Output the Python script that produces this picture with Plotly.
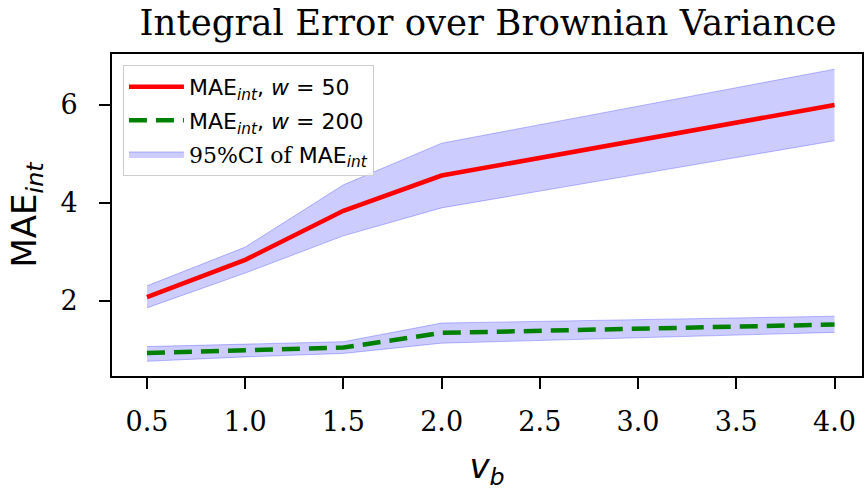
import plotly.graph_objects as go

# Brownian variance levels
v_b = [0.5, 1.0, 1.5, 2.0, 4.0]

# Window w = 50
mae_w50 = [2.08, 2.84, 3.84, 4.56, 6.00]
ci_w50_low = [1.86, 2.57, 3.33, 3.90, 5.27]
ci_w50_high = [2.31, 3.10, 4.37, 5.22, 6.73]

# Window w = 200
mae_w200 = [0.94, 0.99, 1.05, 1.35, 1.52]
ci_w200_low = [0.77, 0.86, 0.93, 1.14, 1.36]
ci_w200_high = [1.07, 1.12, 1.17, 1.55, 1.69]

x_ticks = [0.5, 1.0, 1.5, 2.0, 2.5, 3.0, 3.5, 4.0]
y_ticks = [2, 4, 6]

SERIF = "DejaVu Serif"
SANS = "DejaVu Sans"
FILL = "rgba(0,0,255,0.2)"
EDGE = "rgba(0,0,255,0.25)"

fig = go.Figure()

# confidence bands (drawn first so the lines sit on top)
for low, high, show in [(ci_w50_low, ci_w50_high, True), (ci_w200_low, ci_w200_high, False)]:
    fig.add_trace(go.Scatter(x=v_b, y=low, mode="lines",
                             line=dict(color=EDGE, width=1),
                             showlegend=False, hoverinfo="skip"))
    fig.add_trace(go.Scatter(x=v_b, y=high, mode="lines", fill="tonexty",
                             fillcolor=FILL, line=dict(color=EDGE, width=1),
                             name='<span style="font-family:DejaVu Serif">95%CI of </span>MAE<sub><i>int</i></sub>',
                             legendgroup="ci", showlegend=show, legendrank=3))

fig.add_trace(go.Scatter(x=v_b, y=mae_w50, mode="lines",
                         line=dict(color="#ff0000", width=4.5),
                         name="MAE<sub><i>int</i></sub>, <i>w</i> = 50",
                         legendgroup="w50", legendrank=1))
fig.add_trace(go.Scatter(x=v_b, y=mae_w200, mode="lines",
                         line=dict(color="#008000", width=4.5, dash="18px,9px"),
                         name="MAE<sub><i>int</i></sub>, <i>w</i> = 200",
                         legendgroup="w200", legendrank=2))

axis_common = dict(
    showline=True, linecolor="black", linewidth=2, mirror=True,
    ticks="outside", ticklen=11, tickwidth=2, tickcolor="black",
    showgrid=False, zeroline=False,
    tickfont=dict(family=SERIF, size=27, color="black"),
)

fig.update_layout(
    width=866, height=491,
    margin=dict(l=112, r=2, t=54, b=115),
    paper_bgcolor="white", plot_bgcolor="white",
    title=dict(text="Integral Error over Brownian Variance",
               font=dict(family=SERIF, size=35.5, color="black"),
               x=0.5635, xanchor="center", y=0.955, yanchor="middle"),
    xaxis=dict(range=[0.322, 4.14], tickvals=x_ticks,
               ticktext=[f"{t:.1f}" for t in x_ticks],
               ticklabelstandoff=10,
               title=dict(text="<i>v</i><sub><i>b</i></sub>",
                          font=dict(family=SANS, size=34, color="black"), standoff=18),
               **axis_common),
    yaxis=dict(range=[0.47, 7.04], tickvals=y_ticks,
               ticklabelstandoff=16,
               title=dict(text="MAE<sub><i>int</i></sub>",
                          font=dict(family=SANS, size=34, color="black"), standoff=14),
               **axis_common),
    legend=dict(x=0.0146, y=0.966, xanchor="left", yanchor="top",
                traceorder="grouped",
                bgcolor="rgba(255,255,255,0.8)", bordercolor="#cccccc", borderwidth=1,
                font=dict(family=SANS, size=22, color="black"),
                tracegroupgap=2, itemwidth=55),
    showlegend=True,
)

fig.write_html("out.html")
